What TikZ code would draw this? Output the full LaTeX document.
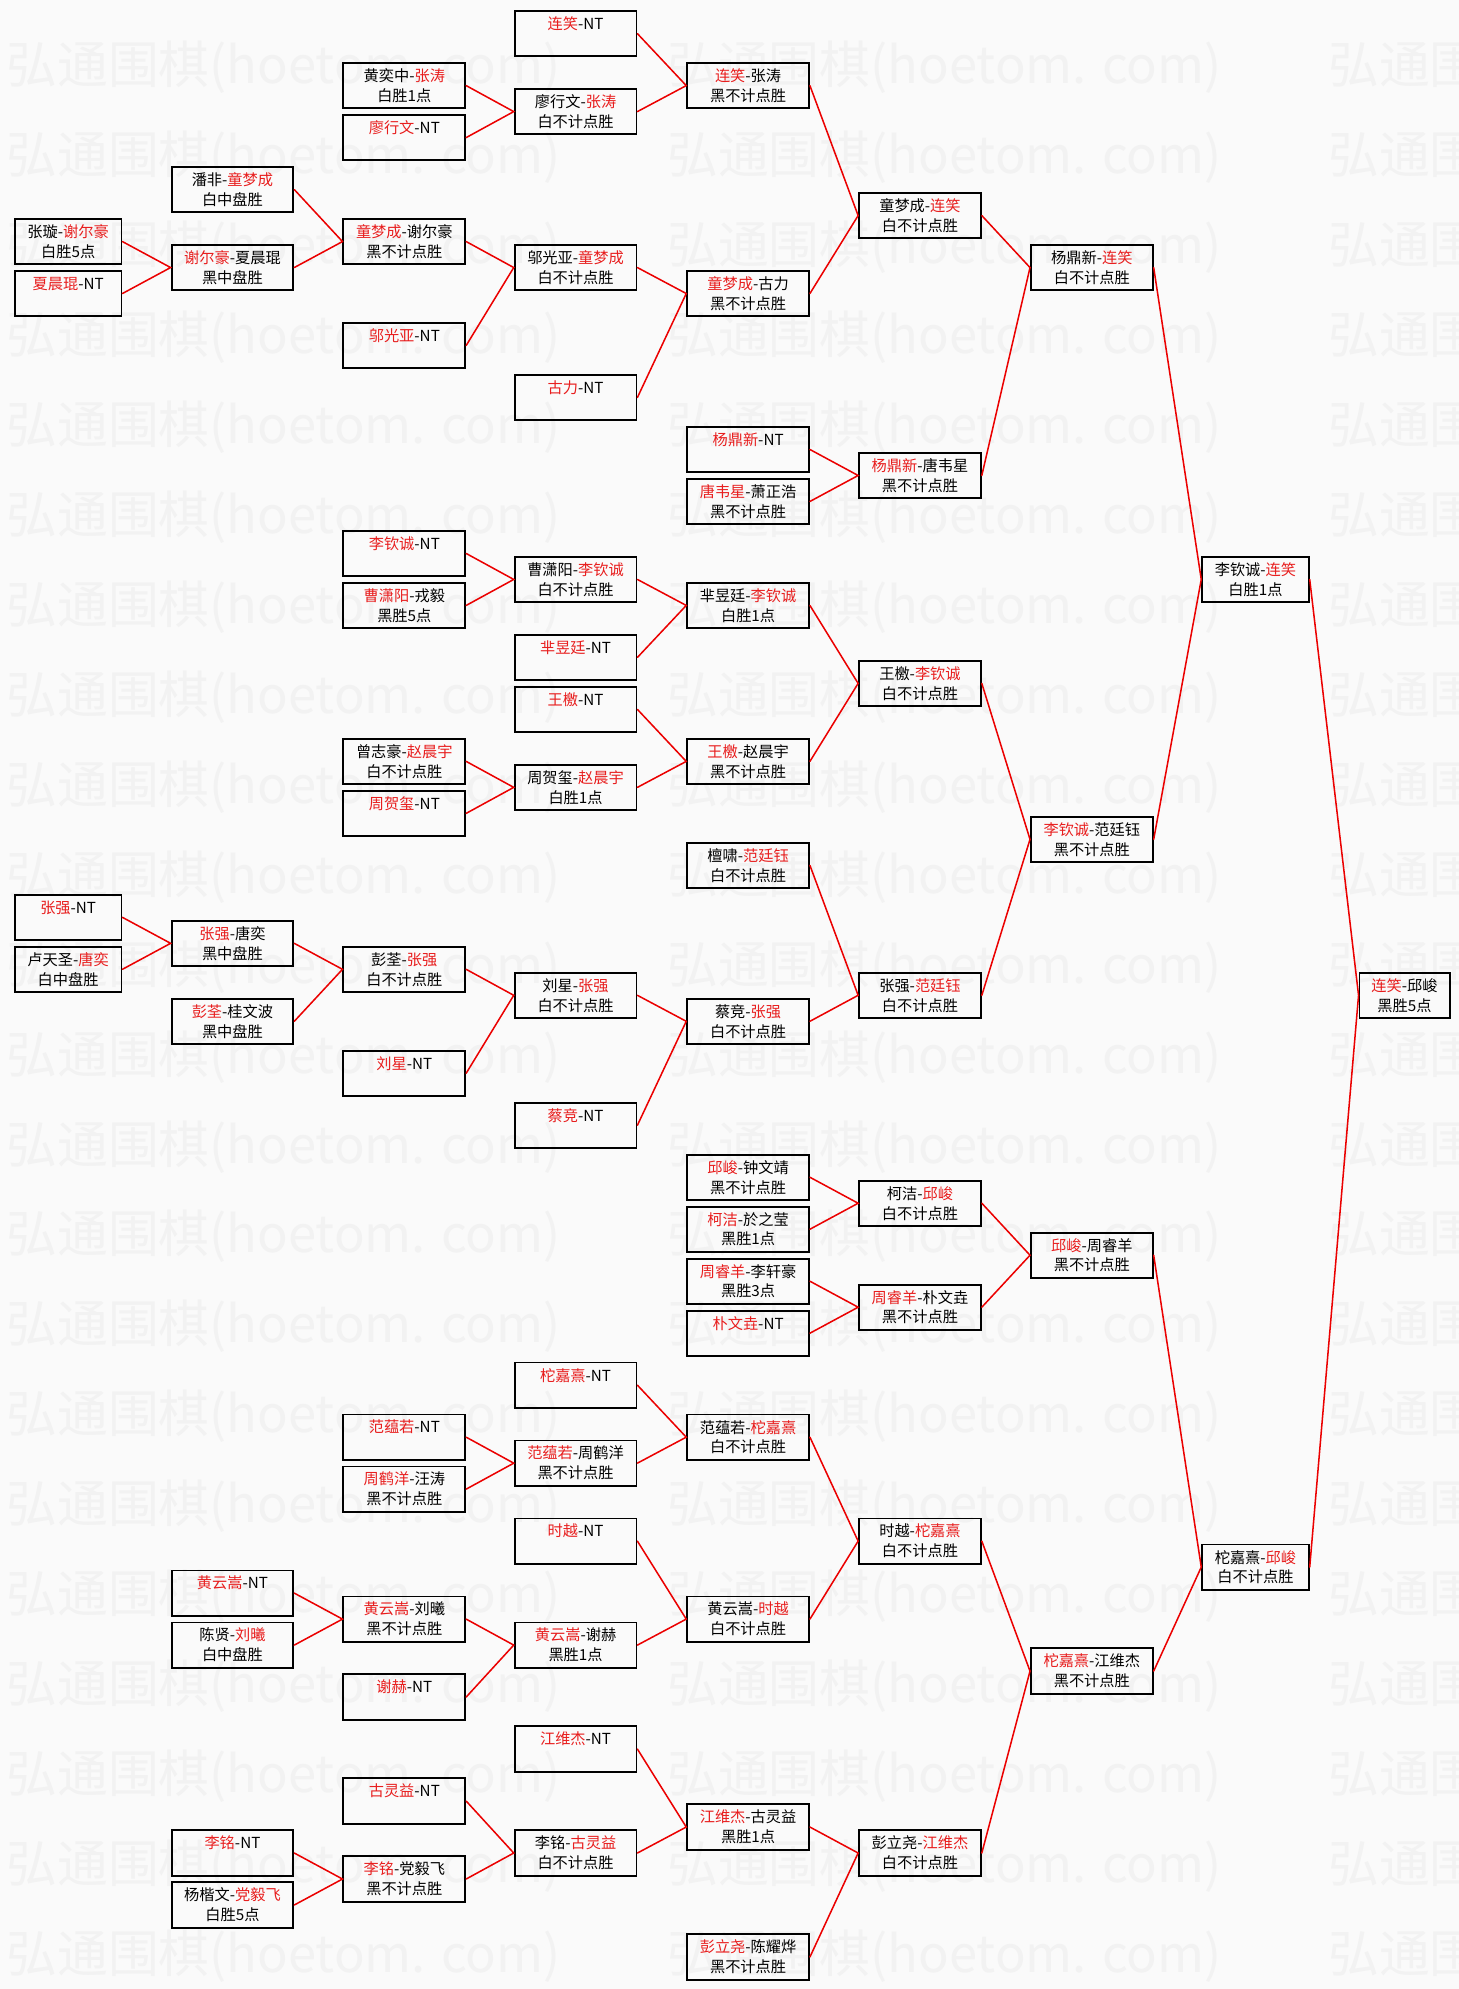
\documentclass[tikz,border=0pt]{standalone}
\usepackage{fontspec}
\setmainfont{Noto Sans CJK SC}
\usepackage{tikz}
\definecolor{winred}{RGB}{232,30,30}
\definecolor{linkred}{RGB}{235,0,0}
\newcommand{\win}[1]{\textcolor{winred}{#1}}
\newcommand{\nores}{\phantom{白}}
\begin{document}
\begin{tikzpicture}[x=1pt, y=-20.49pt, font=\fontsize{12pt}{15.7pt}\selectfont, line cap=round,
	box/.style={draw=black, line width=1.5pt, line cap=butt, anchor=north west, minimum width=96pt, minimum height=35.7pt, inner sep=0pt, align=center},
	narrow/.style={minimum width=84pt},
	final/.style={minimum width=71pt},
	link/.style={draw=linkred, line width=1.2pt},
	wmark/.style={anchor=west, text=black!5, font=\fontsize{40pt}{40pt}\selectfont, inner sep=0pt}]
		\fill[black!2] (0,-0.386) rectangle (1150,76.14);
		\useasboundingbox (0,-0.386) rectangle (1150,76.14);
		\clip (0,-0.386) rectangle (1150,76.14);
		\foreach \k in {0,...,21}
			\foreach \wx in {5,526,1047}
				\node[wmark] (wm\k-\wx) at (\wx,{2.211+3.46*\k}) {弘通围棋(hoetom. com)};
		
		\node[box, narrow] (c0r8) at (11,8) {张璇-\win{谢尔豪}\\白胜5点};
		\node[box, narrow] (c0r10) at (11,10) {\win{夏晨琨}-NT\\\nores};
		\node[box, narrow] (c0r34) at (11,34) {\win{张强}-NT\\\nores};
		\node[box, narrow] (c0r36) at (11,36) {卢天圣-\win{唐奕}\\白中盘胜};
		
		\node[box] (c1r6) at (134.5,6) {潘非-\win{童梦成}\\白中盘胜};
		\node[box] (c1r9) at (134.5,9) {\win{谢尔豪}-夏晨琨\\黑中盘胜};
		\node[box] (c1r35) at (134.5,35) {\win{张强}-唐奕\\黑中盘胜};
		\node[box] (c1r38) at (134.5,38) {\win{彭荃}-桂文波\\黑中盘胜};
		\node[box] (c1r60) at (134.5,60) {\win{黄云嵩}-NT\\\nores};
		\node[box] (c1r62) at (134.5,62) {陈贤-\win{刘曦}\\白中盘胜};
		\node[box] (c1r70) at (134.5,70) {\win{李铭}-NT\\\nores};
		\node[box] (c1r72) at (134.5,72) {杨楷文-\win{党毅飞}\\白胜5点};
		
		\node[box] (c2r2) at (270,2) {黄奕中-\win{张涛}\\白胜1点};
		\node[box] (c2r4) at (270,4) {\win{廖行文}-NT\\\nores};
		\node[box] (c2r8) at (270,8) {\win{童梦成}-谢尔豪\\黑不计点胜};
		\node[box] (c2r12) at (270,12) {\win{邬光亚}-NT\\\nores};
		\node[box] (c2r20) at (270,20) {\win{李钦诚}-NT\\\nores};
		\node[box] (c2r22) at (270,22) {\win{曹潇阳}-戎毅\\黑胜5点};
		\node[box] (c2r28) at (270,28) {曾志豪-\win{赵晨宇}\\白不计点胜};
		\node[box] (c2r30) at (270,30) {\win{周贺玺}-NT\\\nores};
		\node[box] (c2r36) at (270,36) {彭荃-\win{张强}\\白不计点胜};
		\node[box] (c2r40) at (270,40) {\win{刘星}-NT\\\nores};
		\node[box] (c2r54) at (270,54) {\win{范蕴若}-NT\\\nores};
		\node[box] (c2r56) at (270,56) {\win{周鹤洋}-汪涛\\黑不计点胜};
		\node[box] (c2r61) at (270,61) {\win{黄云嵩}-刘曦\\黑不计点胜};
		\node[box] (c2r64) at (270,64) {\win{谢赫}-NT\\\nores};
		\node[box] (c2r68) at (270,68) {\win{古灵益}-NT\\\nores};
		\node[box] (c2r71) at (270,71) {\win{李铭}-党毅飞\\黑不计点胜};
		
		\node[box] (c3r0) at (405,0) {\win{连笑}-NT\\\nores};
		\node[box] (c3r3) at (405,3) {廖行文-\win{张涛}\\白不计点胜};
		\node[box] (c3r9) at (405,9) {邬光亚-\win{童梦成}\\白不计点胜};
		\node[box] (c3r14) at (405,14) {\win{古力}-NT\\\nores};
		\node[box] (c3r21) at (405,21) {曹潇阳-\win{李钦诚}\\白不计点胜};
		\node[box] (c3r24) at (405,24) {\win{芈昱廷}-NT\\\nores};
		\node[box] (c3r26) at (405,26) {\win{王檄}-NT\\\nores};
		\node[box] (c3r29) at (405,29) {周贺玺-\win{赵晨宇}\\白胜1点};
		\node[box] (c3r37) at (405,37) {刘星-\win{张强}\\白不计点胜};
		\node[box] (c3r42) at (405,42) {\win{蔡竞}-NT\\\nores};
		\node[box] (c3r52) at (405,52) {\win{柁嘉熹}-NT\\\nores};
		\node[box] (c3r55) at (405,55) {\win{范蕴若}-周鹤洋\\黑不计点胜};
		\node[box] (c3r58) at (405,58) {\win{时越}-NT\\\nores};
		\node[box] (c3r62) at (405,62) {\win{黄云嵩}-谢赫\\黑胜1点};
		\node[box] (c3r66) at (405,66) {\win{江维杰}-NT\\\nores};
		\node[box] (c3r70) at (405,70) {李铭-\win{古灵益}\\白不计点胜};
		
		\node[box] (c4r2) at (541,2) {\win{连笑}-张涛\\黑不计点胜};
		\node[box] (c4r10) at (541,10) {\win{童梦成}-古力\\黑不计点胜};
		\node[box] (c4r16) at (541,16) {\win{杨鼎新}-NT\\\nores};
		\node[box] (c4r18) at (541,18) {\win{唐韦星}-萧正浩\\黑不计点胜};
		\node[box] (c4r22) at (541,22) {芈昱廷-\win{李钦诚}\\白胜1点};
		\node[box] (c4r28) at (541,28) {\win{王檄}-赵晨宇\\黑不计点胜};
		\node[box] (c4r32) at (541,32) {檀啸-\win{范廷钰}\\白不计点胜};
		\node[box] (c4r38) at (541,38) {蔡竞-\win{张强}\\白不计点胜};
		\node[box] (c4r44) at (541,44) {\win{邱峻}-钟文靖\\黑不计点胜};
		\node[box] (c4r46) at (541,46) {\win{柯洁}-於之莹\\黑胜1点};
		\node[box] (c4r48) at (541,48) {\win{周睿羊}-李轩豪\\黑胜3点};
		\node[box] (c4r50) at (541,50) {\win{朴文垚}-NT\\\nores};
		\node[box] (c4r54) at (541,54) {范蕴若-\win{柁嘉熹}\\白不计点胜};
		\node[box] (c4r61) at (541,61) {黄云嵩-\win{时越}\\白不计点胜};
		\node[box] (c4r69) at (541,69) {\win{江维杰}-古灵益\\黑胜1点};
		\node[box] (c4r74) at (541,74) {\win{彭立尧}-陈耀烨\\黑不计点胜};
		
		\node[box] (c5r7) at (676.5,7) {童梦成-\win{连笑}\\白不计点胜};
		\node[box] (c5r17) at (676.5,17) {\win{杨鼎新}-唐韦星\\黑不计点胜};
		\node[box] (c5r25) at (676.5,25) {王檄-\win{李钦诚}\\白不计点胜};
		\node[box] (c5r37) at (676.5,37) {张强-\win{范廷钰}\\白不计点胜};
		\node[box] (c5r45) at (676.5,45) {柯洁-\win{邱峻}\\白不计点胜};
		\node[box] (c5r49) at (676.5,49) {\win{周睿羊}-朴文垚\\黑不计点胜};
		\node[box] (c5r58) at (676.5,58) {时越-\win{柁嘉熹}\\白不计点胜};
		\node[box] (c5r70) at (676.5,70) {彭立尧-\win{江维杰}\\白不计点胜};
		
		\node[box] (c6r9) at (812,9) {杨鼎新-\win{连笑}\\白不计点胜};
		\node[box] (c6r31) at (812,31) {\win{李钦诚}-范廷钰\\黑不计点胜};
		\node[box] (c6r47) at (812,47) {\win{邱峻}-周睿羊\\黑不计点胜};
		\node[box] (c6r63) at (812,63) {\win{柁嘉熹}-江维杰\\黑不计点胜};
		
		\node[box, narrow] (c7r21) at (947,21) {李钦诚-\win{连笑}\\白胜1点};
		\node[box, narrow] (c7r59) at (947,59) {柁嘉熹-\win{邱峻}\\白不计点胜};
		
		\node[box, final] (c8r37) at (1071,37) {\win{连笑}-邱峻\\黑胜5点};
		
		\draw[link] (c0r8.east) -- (c1r9.west) -- (c0r10.east);
		\draw[link] (c0r34.east) -- (c1r35.west) -- (c0r36.east);
		\draw[link] (c1r6.east) -- (c2r8.west) -- (c1r9.east);
		\draw[link] (c1r35.east) -- (c2r36.west) -- (c1r38.east);
		\draw[link] (c1r60.east) -- (c2r61.west) -- (c1r62.east);
		\draw[link] (c1r70.east) -- (c2r71.west) -- (c1r72.east);
		\draw[link] (c2r2.east) -- (c3r3.west) -- (c2r4.east);
		\draw[link] (c2r8.east) -- (c3r9.west) -- (c2r12.east);
		\draw[link] (c2r20.east) -- (c3r21.west) -- (c2r22.east);
		\draw[link] (c2r28.east) -- (c3r29.west) -- (c2r30.east);
		\draw[link] (c2r36.east) -- (c3r37.west) -- (c2r40.east);
		\draw[link] (c2r54.east) -- (c3r55.west) -- (c2r56.east);
		\draw[link] (c2r61.east) -- (c3r62.west) -- (c2r64.east);
		\draw[link] (c2r68.east) -- (c3r70.west) -- (c2r71.east);
		\draw[link] (c3r0.east) -- (c4r2.west) -- (c3r3.east);
		\draw[link] (c3r9.east) -- (c4r10.west) -- (c3r14.east);
		\draw[link] (c3r21.east) -- (c4r22.west) -- (c3r24.east);
		\draw[link] (c3r26.east) -- (c4r28.west) -- (c3r29.east);
		\draw[link] (c3r37.east) -- (c4r38.west) -- (c3r42.east);
		\draw[link] (c3r52.east) -- (c4r54.west) -- (c3r55.east);
		\draw[link] (c3r58.east) -- (c4r61.west) -- (c3r62.east);
		\draw[link] (c3r66.east) -- (c4r69.west) -- (c3r70.east);
		\draw[link] (c4r2.east) -- (c5r7.west) -- (c4r10.east);
		\draw[link] (c4r16.east) -- (c5r17.west) -- (c4r18.east);
		\draw[link] (c4r22.east) -- (c5r25.west) -- (c4r28.east);
		\draw[link] (c4r32.east) -- (c5r37.west) -- (c4r38.east);
		\draw[link] (c4r44.east) -- (c5r45.west) -- (c4r46.east);
		\draw[link] (c4r48.east) -- (c5r49.west) -- (c4r50.east);
		\draw[link] (c4r54.east) -- (c5r58.west) -- (c4r61.east);
		\draw[link] (c4r69.east) -- (c5r70.west) -- (c4r74.east);
		\draw[link] (c5r7.east) -- (c6r9.west) -- (c5r17.east);
		\draw[link] (c5r25.east) -- (c6r31.west) -- (c5r37.east);
		\draw[link] (c5r45.east) -- (c6r47.west) -- (c5r49.east);
		\draw[link] (c5r58.east) -- (c6r63.west) -- (c5r70.east);
		\draw[link] (c6r9.east) -- (c7r21.west) -- (c6r31.east);
		\draw[link] (c6r47.east) -- (c7r59.west) -- (c6r63.east);
		\draw[link] (c7r21.east) -- (c8r37.west) -- (c7r59.east);
\end{tikzpicture}
\end{document}
